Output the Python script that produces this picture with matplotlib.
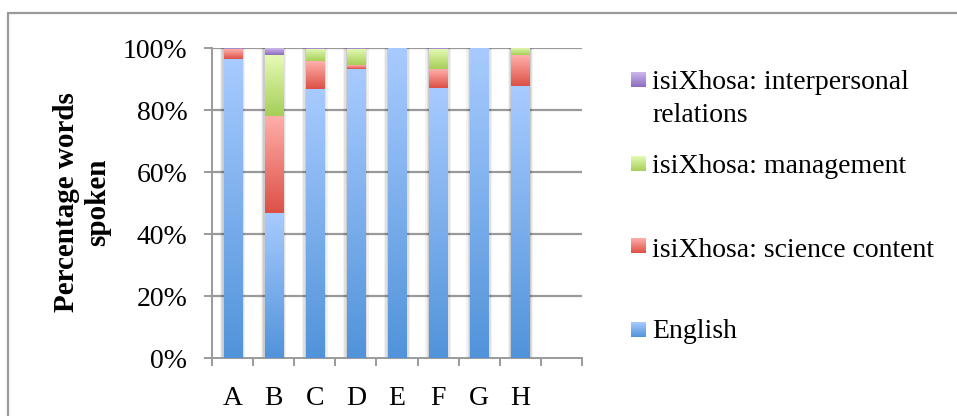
import numpy as np
import matplotlib
matplotlib.use("Agg")
import matplotlib.pyplot as plt
from matplotlib.colors import LinearSegmentedColormap
from matplotlib.patches import Rectangle

categories = ["A", "B", "C", "D", "E", "F", "G", "H", ""]
english = [96.5, 46.8, 86.8, 93.2, 100.0, 87.1, 100.0, 87.7, 0]
science = [3.2, 31.3, 9.0, 1.2, 0.0, 6.1, 0.0, 10.0, 0]
management = [0.0, 19.7, 3.9, 5.3, 0.0, 6.5, 0.0, 2.3, 0]
interpersonal = [0.3, 2.2, 0.3, 0.3, 0.0, 0.3, 0.0, 0.0, 0]
series_names = ["English", "isiXhosa: science content",
                "isiXhosa: management", "isiXhosa: interpersonal\nrelations"]
yticks = [0, 20, 40, 60, 80, 100]

grad = {
    "English": ("#A8CBFF", "#5193DA"),
    "isiXhosa: science content": ("#FFB0AB", "#DC5046"),
    "isiXhosa: management": ("#E6FBB6", "#A6CE57"),
    "isiXhosa: interpersonal\nrelations": ("#CCB8EC", "#8C6CBE"),
}

W, H = 957, 416
fig = plt.figure(figsize=(W / 100, H / 100), dpi=100)
FONT = "Liberation Serif"
plt.rcParams["font.family"] = FONT

# outer chart frame
fig.patches.append(Rectangle((8 / W, -0.1), 1.1, 1 - 13 / H + 0.1, transform=fig.transFigure,
                             fill=False, edgecolor="#9a9a9a", linewidth=1.6, zorder=0))

ax = fig.add_axes([212 / W, 1 - 358 / H, 370 / W, 310 / H])
x = np.arange(len(categories))
bw = 0.44
bottom = np.zeros(len(categories))
grad_img = np.linspace(1, 0, 256).reshape(-1, 1)
for name, vals in zip(series_names, [english, science, management, interpersonal]):
    vals = np.array(vals, dtype=float)
    bars = ax.bar(x, vals, bw, bottom=bottom, color="none", edgecolor="none", zorder=3)
    cmap = LinearSegmentedColormap.from_list(name, [grad[name][1], grad[name][0]])
    for p in bars.patches:
        if p.get_height() <= 0:
            continue
        x0, y0 = p.get_x(), p.get_y()
        w, h = p.get_width(), p.get_height()
        # soft shadow
        for k, a in [(0.09, 0.05), (0.06, 0.07), (0.03, 0.09)]:
            ax.add_patch(Rectangle((x0 - k, y0), w + 2 * k, h, facecolor="#000000",
                                   alpha=a, edgecolor="none", zorder=2))
        ax.imshow(grad_img, extent=[x0, x0 + w, y0, y0 + h], aspect="auto",
                  cmap=cmap, vmin=0, vmax=1, zorder=3, interpolation="bilinear")
    bottom += vals

ax.set_xlim(-0.5, len(categories) - 0.5)
ax.set_ylim(0, 100)
ax.set_yticks(yticks)
ax.set_yticklabels([f"{t}%" for t in yticks])
ax.set_xticks(x)
ax.set_xticklabels(categories)
ax.set_xticks(np.arange(len(categories) + 1) - 0.5, minor=True)
ax.tick_params(axis="x", which="major", length=0, pad=20, labelsize=20)
ax.tick_params(axis="x", which="minor", length=5.8, width=1.4, color="#9a9a9a")
ax.tick_params(axis="y", which="major", length=5.8, width=1.4, color="#9a9a9a",
               pad=12, labelsize=20)
for t in yticks[1:]:
    ax.axhline(t, color="#9a9a9a", linewidth=1.6, zorder=1)
for s in ["top", "right"]:
    ax.spines[s].set_visible(False)
for s in ["left", "bottom"]:
    ax.spines[s].set_color("#9a9a9a")
    ax.spines[s].set_linewidth(1.4)

fig.text(82 / W, 1 - 202 / H, "Percentage words\nspoken", rotation=90, ha="center",
         va="center", fontsize=21, fontweight="bold", linespacing=1.2)

# legend (top to bottom)
leg_items = [
    ("isiXhosa: interpersonal\nrelations", 72, [89, 122]),
    ("isiXhosa: management", 156, [173]),
    ("isiXhosa: science content", 238, [257]),
    ("English", 322, [338]),
]
for name, ytop, baselines in leg_items:
    sq = fig.add_axes([631 / W, 1 - (ytop + 15) / H, 15 / W, 15 / H])
    cmap = LinearSegmentedColormap.from_list(name + "_l", [grad[name][1], grad[name][0]])
    sq.imshow(grad_img, aspect="auto", cmap=cmap, vmin=0, vmax=1)
    sq.axis("off")
    for line, b in zip(name.split("\n"), baselines):
        fig.text(652 / W, 1 - b / H, line, ha="left", va="baseline", fontsize=20)

fig.savefig("out.png", dpi=100)
